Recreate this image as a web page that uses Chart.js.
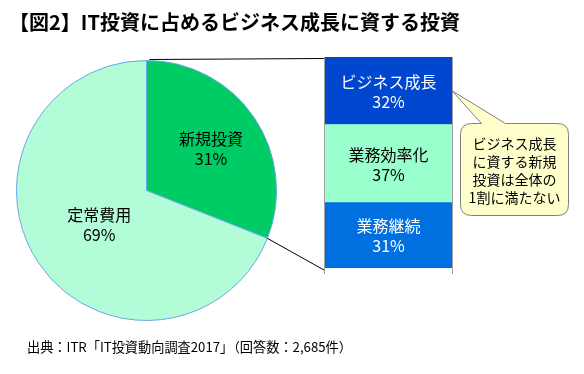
<!DOCTYPE html>
<html lang="ja">
<head>
<meta charset="utf-8">
<script src="https://cdn.jsdelivr.net/npm/chart.js@4/dist/chart.umd.min.js"></script>
<style>
  html, body { margin: 0; padding: 0; background: #fff; }
  #wrap { position: relative; width: 584px; height: 374px; overflow: hidden; font-family: "Noto Sans CJK JP", "Noto Sans", sans-serif; }
  #wrap canvas { position: absolute; left: 0; top: 0; }
  #title { position: absolute; left: 9px; top: 7px; font-size: 20px; font-weight: bold; color: #000; white-space: nowrap; }
  #source { position: absolute; left: 27px; top: 337px; font-size: 13.2px; color: #000; white-space: nowrap; }
</style>
</head>
<body>
<div id="wrap">
  <canvas id="pie" width="584" height="374"></canvas>
  <canvas id="bar" width="584" height="374"></canvas>
  <div id="title">【図2】IT投資に占めるビジネス成長に資する投資</div>
  <div id="source">出典：ITR「IT投資動向調査2017」（回答数：2,685件）</div>
</div>
<script>
"use strict";

// pie: total IT investment split
const pieLabels = ["新規投資", "定常費用"];
const pieValues = [31, 69];
const pieColors = ["#00CC66", "#B3FCD8"];

// bar: breakdown of new investment, bottom to top
const barLabels = ["業務継続", "業務効率化", "ビジネス成長"];
const barValues = [31, 37, 32];
const barColors = ["#0070E0", "#99FFCC", "#0047D0"];
const barTextColors = ["#fff", "#000", "#fff"];

const calloutLines = ["ビジネス成長", "に資する新規", "投資は全体の", "1割に満たない"];

const FONT = '"Noto Sans CJK JP", "Noto Sans", sans-serif';

// ---- pie ----
// label radius as a fraction of the outer radius (Excel places them unevenly)
const pieLabelRadius = [0.6, 0.44];

const pieLabelPlugin = {
  id: "pieLabels",
  afterDatasetsDraw(chart) {
    const ctx = chart.ctx;
    const meta = chart.getDatasetMeta(0);
    ctx.save();
    ctx.font = "16px " + FONT;
    ctx.fillStyle = "#000";
    ctx.textAlign = "center";
    ctx.textBaseline = "middle";
    meta.data.forEach((arc, i) => {
      const mid = (arc.startAngle + arc.endAngle) / 2;
      const r = arc.outerRadius * pieLabelRadius[i];
      const x = arc.x + Math.cos(mid) * r;
      const y = arc.y + Math.sin(mid) * r;
      ctx.fillText(pieLabels[i], x, y - 8);
      ctx.fillText(pieValues[i] + "%", x, y + 12);
    });
    ctx.restore();
  },
};

const pieChart = new Chart(document.getElementById("pie"), {
  type: "pie",
  data: {
    labels: pieLabels,
    datasets: [{ data: pieValues, backgroundColor: pieColors, borderColor: "#6AA6E8", borderWidth: 1 }],
  },
  options: {
    responsive: false,
    animation: false,
    layout: { padding: { left: 16, right: 307, top: 60, bottom: 53 } },
    plugins: { legend: { display: false }, tooltip: { enabled: false } },
  },
  plugins: [pieLabelPlugin],
});

// ---- bar + connectors + callout ----
const barDecorPlugin = {
  id: "barDecor",
  afterDatasetsDraw(chart) {
    const ctx = chart.ctx;
    const area = chart.chartArea;
    ctx.save();

    // gray frame lines on both sides of the bar
    ctx.strokeStyle = "#A0A0A0";
    ctx.lineWidth = 1;
    ctx.beginPath();
    ctx.moveTo(area.left + 0.5, area.top);
    ctx.lineTo(area.left + 0.5, area.bottom + 6);
    ctx.moveTo(area.right - 0.5, area.top);
    ctx.lineTo(area.right - 0.5, area.bottom + 6);
    ctx.stroke();

    // segment labels
    ctx.font = "16px " + FONT;
    ctx.textAlign = "center";
    ctx.textBaseline = "middle";
    barLabels.forEach((name, i) => {
      const el = chart.getDatasetMeta(i).data[0];
      const cy = (el.y + el.base) / 2;
      ctx.fillStyle = barTextColors[i];
      ctx.fillText(name, el.x, cy - 9);
      ctx.fillText(barValues[i] + "%", el.x, cy + 11);
    });

    // connector lines from the new-investment slice to the bar
    const arc = pieChart.getDatasetMeta(0).data[0];
    const p1x = arc.x + Math.cos(arc.startAngle) * arc.outerRadius;
    const p1y = arc.y + Math.sin(arc.startAngle) * arc.outerRadius;
    const p2x = arc.x + Math.cos(arc.endAngle) * arc.outerRadius;
    const p2y = arc.y + Math.sin(arc.endAngle) * arc.outerRadius;
    ctx.strokeStyle = "#000";
    ctx.beginPath();
    ctx.moveTo(p1x + 3, p1y - 1);
    ctx.lineTo(area.left, area.top + 1.5);
    ctx.moveTo(p2x, p2y);
    ctx.lineTo(area.left, area.bottom + 2);
    ctx.stroke();

    // callout bubble pointing at the top segment
    const top = chart.getDatasetMeta(2).data[0];
    const tipX = area.right - 1;
    const tipY = (top.y + top.base) / 2;
    const bx = 460.5, by = 123.5, bw = 108, bh = 92, br = 11;
    const outline = () => {
      ctx.beginPath();
      ctx.moveTo(bx + br, by);
      ctx.lineTo(bx + 21, by);
      ctx.lineTo(tipX, tipY);
      ctx.lineTo(bx + 45, by);
      ctx.lineTo(bx + bw - br, by);
      ctx.quadraticCurveTo(bx + bw, by, bx + bw, by + br);
      ctx.lineTo(bx + bw, by + bh - br);
      ctx.quadraticCurveTo(bx + bw, by + bh, bx + bw - br, by + bh);
      ctx.lineTo(bx + br, by + bh);
      ctx.quadraticCurveTo(bx, by + bh, bx, by + bh - br);
      ctx.lineTo(bx, by + br);
      ctx.quadraticCurveTo(bx, by, bx + br, by);
      ctx.closePath();
    };
    outline();
    ctx.fillStyle = "#FFFFCC";
    ctx.fill();
    ctx.strokeStyle = "#7F7F7F";
    ctx.stroke();

    ctx.font = "14px " + FONT;
    ctx.fillStyle = "#000";
    calloutLines.forEach((line, i) => {
      ctx.fillText(line, bx + bw / 2, by + 20 + i * 18);
    });

    ctx.restore();
  },
};

new Chart(document.getElementById("bar"), {
  type: "bar",
  data: {
    labels: [""],
    datasets: barLabels.map((name, i) => ({
      label: name,
      data: [barValues[i]],
      backgroundColor: barColors[i],
      borderWidth: 0,
      barPercentage: 1,
      categoryPercentage: 1,
    })),
  },
  options: {
    responsive: false,
    animation: false,
    layout: { padding: { left: 324, right: 131, top: 57, bottom: 106 } },
    scales: {
      x: { stacked: true, display: false },
      y: { stacked: true, display: false, min: 0, max: 100 },
    },
    plugins: { legend: { display: false }, tooltip: { enabled: false } },
  },
  plugins: [barDecorPlugin],
});
</script>
</body>
</html>
